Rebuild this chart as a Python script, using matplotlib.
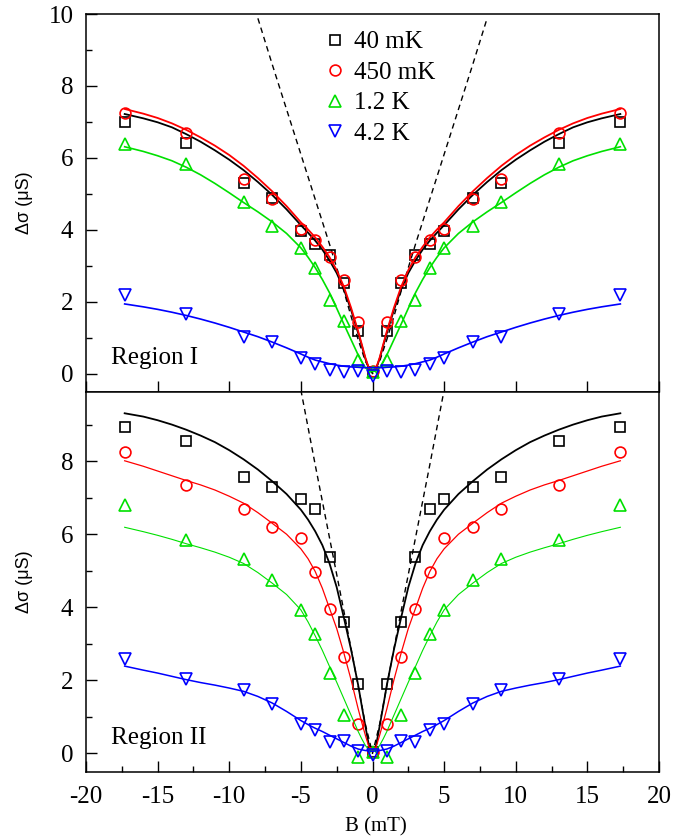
import numpy as np
import matplotlib.pyplot as plt
from matplotlib.ticker import MultipleLocator

plt.rcParams['font.family'] = ['Liberation Serif', 'DejaVu Serif']
plt.rcParams['axes.unicode_minus'] = False

# measured points, B >= 0 half (data are symmetric in B)
b_pts = np.array([0, 1, 2, 3, 4, 5, 7, 9, 13, 17.3])

# Region I
r1_40mk = np.array([0.05, 1.20, 2.52, 3.31, 3.62, 3.97, 4.89, 5.31, 6.41, 6.99])
r1_450mk = np.array([0.08, 1.45, 2.61, 3.25, 3.71, 4.01, 4.86, 5.41, 6.69, 7.25])
r1_1p2k = np.array([0.05, 0.37, 1.46, 2.05, 2.95, 3.50, 4.12, 4.78, 5.83, 6.40])
r1_4p2k = np.array([-0.05, 0.09, 0.06, 0.10, 0.26, 0.43, 0.87, 1.01, 1.66, 2.18])

# Region II
r2_40mk = np.array([0.05, 1.89, 3.60, 5.38, 6.68, 6.97, 7.30, 7.57, 8.56, 8.94])
r2_450mk = np.array([0.05, 0.81, 2.64, 3.96, 4.97, 5.89, 6.19, 6.70, 7.35, 8.25])
r2_1p2k = np.array([0.03, -0.10, 1.05, 2.21, 3.28, 3.93, 4.74, 5.31, 5.84, 6.79])
r2_4p2k = np.array([-0.04, 0.08, 0.33, 0.32, 0.63, 0.81, 1.35, 1.73, 2.03, 2.59])

# fit curves, B >= 0 half
b_fit = np.array([0, 0.25, 0.5, 0.75, 1, 1.5, 2, 2.5, 3, 3.5, 4, 4.5, 5, 6, 7, 8, 9,
                  10, 11, 12, 13, 14, 15, 16, 17.3])

r1_fit_40mk = [0.07, 0.14, 0.42, 0.78, 1.13, 1.78, 2.35, 2.80, 3.15, 3.45, 3.70, 3.92, 4.13,
               4.57, 4.97, 5.33, 5.66, 5.95, 6.21, 6.45, 6.66, 6.85, 6.99, 7.10, 7.22]
r1_fit_450mk = [0.08, 0.15, 0.45, 0.82, 1.18, 1.84, 2.42, 2.88, 3.24, 3.53, 3.79, 4.01, 4.21,
                4.66, 5.07, 5.44, 5.78, 6.08, 6.34, 6.57, 6.78, 6.96, 7.11, 7.23, 7.36]
r1_fit_1p2k = [0.06, 0.08, 0.17, 0.33, 0.52, 0.95, 1.38, 1.82, 2.25, 2.62, 2.95, 3.24, 3.50,
               3.90, 4.22, 4.50, 4.76, 5.03, 5.29, 5.53, 5.74, 5.92, 6.06, 6.18, 6.31]
r1_fit_4p2k = [0.17, 0.17, 0.17, 0.17, 0.18, 0.19, 0.21, 0.24, 0.28, 0.33, 0.38, 0.46, 0.55,
               0.72, 0.88, 1.03, 1.16, 1.29, 1.41, 1.52, 1.62, 1.71, 1.79, 1.86, 1.94]

r2_fit_40mk = [0.08, 0.22, 0.75, 1.30, 1.87, 2.85, 3.72, 4.55, 5.20, 5.70, 6.08, 6.40, 6.67,
               7.10, 7.45, 7.77, 8.05, 8.30, 8.52, 8.70, 8.86, 9.00, 9.12, 9.22, 9.31]
r2_fit_450mk = [0.08, 0.18, 0.50, 0.85, 1.22, 2.02, 2.75, 3.42, 3.97, 4.52, 4.98, 5.33, 5.60,
                6.00, 6.30, 6.59, 6.85, 7.04, 7.21, 7.35, 7.47, 7.60, 7.73, 7.86, 8.01]
r2_fit_1p2k = [0.06, 0.10, 0.22, 0.40, 0.60, 1.05, 1.50, 1.95, 2.38, 2.82, 3.22, 3.60, 3.93,
               4.35, 4.66, 4.95, 5.20, 5.37, 5.51, 5.63, 5.74, 5.86, 5.97, 6.07, 6.19]
r2_fit_4p2k = [0.06, 0.07, 0.08, 0.10, 0.12, 0.20, 0.30, 0.40, 0.50, 0.60, 0.69, 0.79, 0.90,
               1.15, 1.38, 1.56, 1.70, 1.79, 1.87, 1.94, 2.02, 2.11, 2.20, 2.28, 2.39]

# dashed guide lines
b_dash1 = np.array([0, 0.5, 1, 1.5, 2, 3, 4, 5, 6, 7, 8])
dash1 = np.array([0, 0.35, 0.95, 1.6, 2.3, 3.6, 4.85, 6.1, 7.35, 8.6, 9.88])
b_dash2 = np.array([0, 0.5, 1, 2, 3, 4, 5])
dash2 = np.array([0, 0.8, 1.85, 3.9, 5.9, 7.9, 9.95])

labels = ['40 mK', '450 mK', '1.2 K', '4.2 K']
colors = ['black', '#ff0000', '#00e000', '#0000ff']
markers = ['s', 'o', '^', 'v']
msizes = [7, 7.8, 8.5, 8.5]


def mirror(b, v):
    b = np.asarray(b)
    v = np.asarray(v)
    return np.concatenate([-b[:0:-1], b]), np.concatenate([v[:0:-1], v])


fig = plt.figure(figsize=(6.94, 8.39), dpi=100)
ax1 = fig.add_axes([0.1239, 0.5331, 0.8257, 0.4502])
ax2 = fig.add_axes([0.1239, 0.0802, 0.8257, 0.4529])

panels = [
    (ax1, [r1_40mk, r1_450mk, r1_1p2k, r1_4p2k],
     [r1_fit_40mk, r1_fit_450mk, r1_fit_1p2k, r1_fit_4p2k], [1.3, 1.3, 1.2, 1.2],
     b_dash1, dash1, 'Region I'),
    (ax2, [r2_40mk, r2_450mk, r2_1p2k, r2_4p2k],
     [r2_fit_40mk, r2_fit_450mk, r2_fit_1p2k, r2_fit_4p2k], [1.3, 0.9, 0.8, 1.1],
     b_dash2, dash2, 'Region II'),
]

for ax, pts, fits, lws, bd, dd, region in panels:
    x, y = mirror(bd, dd)
    ax.plot(x, y, color='black', lw=1.0, ls=(0, (4, 3)))
    for v, f, c, m, ms, lw, lab in zip(pts, fits, colors, markers, msizes, lws, labels):
        x, y = mirror(b_fit, f)
        ax.plot(x, y, color=c, lw=lw)
        x, y = mirror(b_pts, v)
        ax.plot(x, y, ls='none', marker=m, ms=ms, mfc='none', mec=c, mew=1.2, label=lab)
    ax.set_xlim(-20, 20)
    ax.xaxis.set_major_locator(MultipleLocator(5))
    ax.yaxis.set_major_locator(MultipleLocator(2))
    ax.yaxis.set_minor_locator(MultipleLocator(1))
    ax.tick_params(which='both', direction='in', width=1.0, labelsize=18)
    ax.tick_params(which='major', length=8)
    ax.tick_params(which='minor', length=4.5)
    ax.tick_params(axis='y', pad=9)
    ax.tick_params(axis='x', pad=10)
    for s in ax.spines.values():
        s.set_linewidth(1.1)
    ax.text(0.043, 0.088, region, transform=ax.transAxes, fontsize=18,
            ha='left', va='center')
    ax.set_ylabel('\u0394\u03c3 (\u03bcS)', family=['Liberation Sans', 'DejaVu Sans'],
                  fontsize=13)
    ax.yaxis.set_label_coords(-0.093, 0.5)

ax1.set_ylim(-0.5, 10)
ax1.set_yticks([0, 2, 4, 6, 8, 10])
ax1.tick_params(axis='x', labelbottom=False)

ax2.set_ylim(-0.5, 9.9)
ax2.set_yticks([0, 2, 4, 6, 8])
ax2.xaxis.set_minor_locator(MultipleLocator(2.5))
ax2.set_xlabel('B (mT)', fontsize=15)
ax2.xaxis.set_label_coords(0.506, -0.12)

ax1.legend(loc='upper left', bbox_to_anchor=(0.417, 0.9555), frameon=False, fontsize=18,
           handlelength=0.8, handletextpad=0.36, labelspacing=0.32, borderpad=0,
           borderaxespad=0, numpoints=1)

fig.savefig('out.png', dpi=100)
